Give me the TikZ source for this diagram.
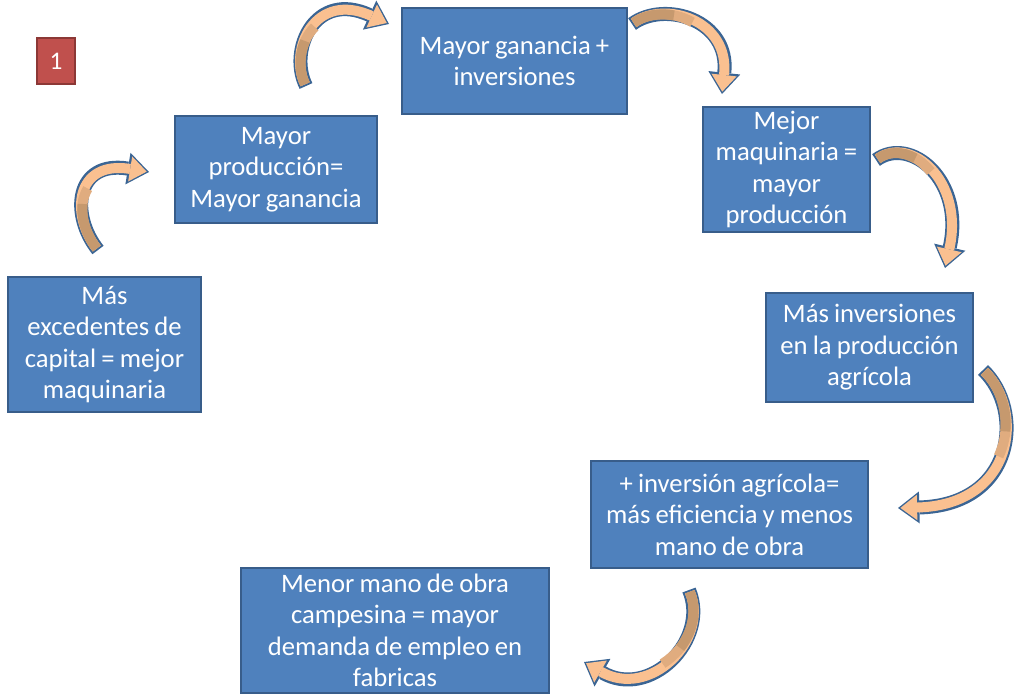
\documentclass[tikz,border=0pt]{standalone}
\usepackage{fontspec}
\setmainfont{Carlito}[WordSpace=0.85]
\usetikzlibrary{arrows.meta,calc}
\definecolor{BoxFill}{HTML}{4F81BD}
\definecolor{BoxLine}{HTML}{385D8A}
\definecolor{BadgeFill}{HTML}{C0504D}
\definecolor{BadgeLine}{HTML}{8C3836}
\definecolor{ArrLight}{HTML}{FAC090}
\definecolor{ArrMid}{HTML}{E0AC7F}
\definecolor{ArrDark}{HTML}{C6996E}
\definecolor{ArrLine}{HTML}{3B6594}
% part of a cubic curve from t=0 to t=#5 (de Casteljau)
\newcommand\SubCurve[6]{%
  \path ($(#1)!#5!(#2)$) coordinate (s01) ($(#2)!#5!(#3)$) coordinate (s12)
        ($(#3)!#5!(#4)$) coordinate (s23);
  \path ($(s01)!#5!(s12)$) coordinate (s012) ($(s12)!#5!(s23)$) coordinate (s123);
  \path ($(s012)!#5!(s123)$) coordinate (sM);
  \draw[arrband, draw=#6] (#1) .. controls (s01) and (s012) .. (sM);
}
\newcommand\CurvArr[6]{%
  \draw[arrline] (#1) .. controls (#2) and (#3) .. (#4);
  \draw[arrfill] (#1) .. controls (#2) and (#3) .. (#4);
  \SubCurve{#1}{#2}{#3}{#4}{#6}{ArrMid}
  \SubCurve{#1}{#2}{#3}{#4}{#5}{ArrDark}
}
\begin{document}
\begin{tikzpicture}[x=0.75pt,y=-0.75pt,
  box/.style={draw=BoxLine, fill=BoxFill, line width=1.5pt, text=white, align=flush center,
    inner sep=0pt, font=\fontsize{20pt}{23.6pt}\selectfont},
  badge/.style={draw=BadgeLine, fill=BadgeFill, line width=1.5pt, text=white,
    inner sep=0pt, font=\fontsize{19pt}{22pt}\selectfont},
  arrline/.style={line width=10.5pt, draw=ArrLine,
    -{Triangle[length=16pt,width=24pt,line width=0pt]}},
  arrfill/.style={line width=7.5pt, draw=ArrLight, shorten <=1.5pt, shorten >=1.8pt,
    -{Triangle[length=12.5pt,width=19pt,line width=0pt]}},
  arrband/.style={line width=7.5pt, shorten <=1.5pt}]
\useasboundingbox (0,0) rectangle (1016,696);

\node[badge, minimum width=28.5pt, minimum height=34.5pt] (one) at (56,61) {1};

\node[box, minimum width=168.75pt, minimum height=79.5pt, text width=165pt] (b2) at (514.5,61)
  {Mayor ganancia +\\inversiones};
\node[box, minimum width=125.25pt, minimum height=93.75pt, text width=122pt] (b3) at (786.5,169.5)
  {Mejor\\maquinaria =\\mayor\\producción};
\node[box, minimum width=155.25pt, minimum height=81.75pt, text width=152pt] (b4) at (869.5,347.5)
  {Más inversiones\\en la producción\\agrícola};
\node[box, minimum width=207.75pt, minimum height=80.25pt, text width=204pt] (b5) at (729.5,514.5)
  {+ inversión agrícola=\\más eficiencia y menos\\mano de obra};
\node[box, minimum width=231pt, minimum height=93.75pt, text width=228pt] (b6) at (395,630.5)
  {Menor mano de obra\\campesina = mayor\\demanda de empleo en\\fabricas};
\node[box, minimum width=144.75pt, minimum height=101.25pt, text width=141pt] (b7) at (104.5,344.5)
  {Más\\excedentes de\\capital = mejor\\maquinaria};
\node[box, minimum width=151.5pt, minimum height=80.25pt, text width=148pt] (b8) at (276,169.5)
  {Mayor\\producción=\\Mayor ganancia};

% curved arrows: tail, control 1, control 2, tip
\coordinate (aT) at (306,86);  \coordinate (aH) at (389,24);
\coordinate (bT) at (632,24);  \coordinate (bH) at (722,94);
\coordinate (cT) at (876,160); \coordinate (cH) at (945,268);
\coordinate (dT) at (983,370); \coordinate (dH) at (898,508);
\coordinate (eT) at (689,590); \coordinate (eH) at (584,662);
\coordinate (fT) at (98,250);  \coordinate (fH) at (149,172);

\CurvArr{aT}{288,50}{315,-10}{aH}{0.38}{0.52}
\CurvArr{bT}{665,0}{730,20}{bH}{0.35}{0.5}
\CurvArr{cT}{910,135}{965,180}{cH}{0.35}{0.5}
\CurvArr{dT}{1025,410}{1015,505}{dH}{0.38}{0.52}
\CurvArr{eT}{710,640}{650,700}{eH}{0.4}{0.55}
\CurvArr{fT}{70,215}{75,160}{fH}{0.4}{0.55}
\end{tikzpicture}
\end{document}
